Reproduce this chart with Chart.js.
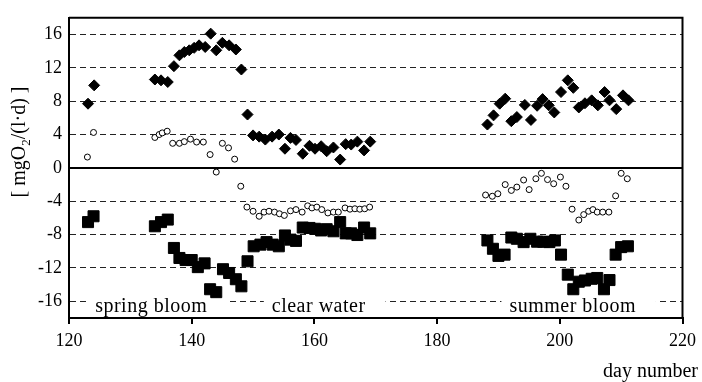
<!DOCTYPE html>
<html>
<head>
    <title>Oxygen rates</title>
    <script src="https://cdn.jsdelivr.net/npm/chart.js"></script>
    <style>
        body { margin: 0; background: #fff; }
    </style>
</head>
<body>
    <canvas id="rates-chart" width="702" height="382"></canvas>

    <script>
        // Values: day number and rate in mgO2/(l·d)
        const grossDays = [123.1, 124.1, 134, 135, 136.1, 137.1, 138, 138.8, 139.6, 140.4, 141.2, 142.2, 143.1, 144, 145, 146.1, 147.2, 148.1, 149.1, 150, 151, 152, 153.1, 154.2, 155.2, 156.1, 157, 158.1, 159.2, 160.1, 161.1, 162, 163.1, 164.2, 165.1, 166, 167, 168.1, 169.1,
            188.2, 189.2, 190.2, 191.1, 192.1, 193, 194.3, 195.3, 196.3, 197.2, 198.2, 199.1, 200.2, 201.3, 202.2, 203.1, 204.1, 205.2, 206.2, 207.3, 208.1, 209.2, 210.3, 211.2];
        const grossValues = [7.7, 9.9, 10.6, 10.5, 10.3, 12.2, 13.5, 13.9, 14.1, 14.4, 14.7, 14.5, 16.1, 14.1, 15.0, 14.7, 14.2, 11.8, 6.4, 3.9, 3.75, 3.4, 3.75, 4.0, 2.3, 3.6, 3.35, 1.7, 2.65, 2.3, 2.6, 2.0, 2.45, 1.0, 2.85, 2.8, 3.15, 2.1, 3.15,
            5.2, 6.3, 7.7, 8.3, 5.6, 6.1, 7.55, 5.75, 7.45, 8.25, 7.5, 6.65, 9.1, 10.5, 9.6, 7.25, 7.75, 8.1, 7.5, 9.1, 8.1, 7.05, 8.7, 8.1];

        const netDays = [123, 124, 134, 134.7, 135.2, 136, 136.9, 138, 138.8, 139.8, 140.8, 141.9, 143, 144, 145, 146, 147, 148, 149, 150, 151, 151.8, 152.6, 153.5, 154.3, 155.1, 156.1, 157, 158, 158.9, 159.6, 160.4, 161.2, 162.2, 163.1, 163.9, 165, 165.8, 166.6, 167.4, 168.2, 169,
            187.9, 189, 189.9, 191.1, 192.1, 193, 194.1, 195, 196.1, 197, 198, 199, 200.1, 201, 202, 203.1, 203.9, 204.7, 205.4, 206.1, 207, 208, 209.1, 210, 211];
        const netValues = [1.3, 4.25, 3.65, 4.0, 4.2, 4.4, 2.95, 2.95, 3.15, 3.45, 3.1, 3.1, 1.6, -0.5, 2.95, 2.4, 1.05, -2.2, -4.7, -5.2, -5.8, -5.3, -5.2, -5.3, -5.5, -5.7, -5.15, -5.0, -5.3, -4.55, -4.8, -4.7, -5.0, -5.4, -5.3, -5.3, -4.8, -4.95, -4.9, -4.95, -4.9, -4.7,
            -3.25, -3.4, -3.1, -2.0, -2.7, -2.3, -1.45, -2.6, -1.3, -0.65, -1.4, -1.9, -1.1, -2.2, -4.95, -6.25, -5.6, -5.2, -5.0, -5.3, -5.3, -5.3, -3.35, -0.65, -1.3];

        const respDays = [123.1, 124, 134, 135, 136.1, 137.1, 138, 139, 140, 141, 142.1, 143, 144, 145.1, 146.1, 147.2, 148.1, 149.1, 150.1, 151.2, 152.2, 153.2, 154.2, 155.2, 156.1, 157, 158.1, 159.2, 160.1, 161.1, 162, 163.1, 164.2, 165.1, 166, 167, 168.1, 169.1,
            188.2, 189.1, 190, 191, 192.1, 193, 194.1, 195.2, 196.3, 197.3, 198.3, 199.2, 200.2, 201.3, 202.2, 203.1, 204.1, 205.2, 206.1, 207.2, 208.1, 209.1, 210, 211.1];
        const respValues = [-6.5, -5.8, -7.0, -6.5, -6.2, -9.6, -10.8, -11.05, -11.05, -11.9, -11.45, -14.55, -14.9, -12.15, -12.6, -13.35, -14.2, -11.2, -9.4, -9.2, -8.9, -9.2, -9.4, -8.1, -8.6, -8.75, -7.15, -7.2, -7.3, -7.5, -7.35, -7.6, -6.5, -7.85, -7.85, -8.05, -7.15, -7.85,
            -8.7, -9.7, -10.55, -10.4, -8.35, -8.5, -8.9, -8.5, -8.85, -8.85, -8.9, -8.7, -10.4, -12.8, -14.55, -13.65, -13.5, -13.3, -13.2, -14.55, -13.45, -10.4, -9.5, -9.4];

        const yTicks = [-16, -12, -8, -4, 0, 4, 8, 12, 16];
        const phaseLabels = ['spring bloom', 'clear water', 'summer bloom'];
        const phaseDays = [133.4, 160.7, 202.1];
        const phaseValue = -16;

        const FONT = '"Liberation Serif", "Times New Roman", serif';

        function toPoints(days, values) {
            return days.map((d, i) => ({ x: d, y: values[i] }));
        }

        // extra drawing: frame, zero line, phase labels, axis titles
        const decorations = {
            id: 'decorations',
            beforeDatasetsDraw(chart) {
                const { ctx, chartArea, scales } = chart;
                const y0 = scales.y.getPixelForValue(0);
                ctx.save();
                ctx.strokeStyle = '#000';
                ctx.lineWidth = 2;
                ctx.beginPath();
                ctx.moveTo(chartArea.left, y0);
                ctx.lineTo(chartArea.right, y0);
                ctx.stroke();

                // phase labels on white boxes over the -16 grid line
                ctx.font = '20px ' + FONT;
                ctx.letterSpacing = '0.5px';
                ctx.textAlign = 'center';
                ctx.textBaseline = 'alphabetic';
                const yl = scales.y.getPixelForValue(phaseValue);
                phaseLabels.forEach((txt, i) => {
                    const cx = scales.x.getPixelForValue(phaseDays[i]);
                    const w = ctx.measureText(txt).width;
                    ctx.fillStyle = '#fff';
                    ctx.fillRect(cx - w / 2 - 8, yl - 6, w + 28, 12);
                    ctx.fillStyle = '#000';
                    ctx.fillText(txt, cx, yl + 11);
                });
                ctx.restore();
            },
            afterDraw(chart) {
                const { ctx, chartArea } = chart;
                ctx.save();
                ctx.strokeStyle = '#000';
                ctx.lineWidth = 2;
                ctx.beginPath();
                ctx.moveTo(chartArea.left, chartArea.top);
                ctx.lineTo(chartArea.right, chartArea.top);
                ctx.lineTo(chartArea.right, chartArea.bottom);
                ctx.stroke();

                ctx.fillStyle = '#000';
                ctx.font = '20px ' + FONT;
                ctx.textAlign = 'right';
                ctx.textBaseline = 'alphabetic';
                ctx.fillText('day number', 698, 377);

                // y title, rotated, with subscript 2
                ctx.translate(25, 142);
                ctx.rotate(-Math.PI / 2);
                const parts = [['[ mgO', 20, 0], ['2', 13, 5], ['/(l·d) ]', 20, 0]];
                let total = 0;
                parts.forEach(p => { ctx.font = p[1] + 'px ' + FONT; total += ctx.measureText(p[0]).width; });
                let x = -total / 2;
                ctx.textAlign = 'left';
                parts.forEach(p => {
                    ctx.font = p[1] + 'px ' + FONT;
                    ctx.fillText(p[0], x, p[2]);
                    x += ctx.measureText(p[0]).width;
                });
                ctx.restore();
            }
        };

        const ctx = document.getElementById('rates-chart').getContext('2d');
        new Chart(ctx, {
            type: 'scatter',
            data: {
                datasets: [
                    {
                        label: 'gross',
                        data: toPoints(grossDays, grossValues),
                        pointStyle: 'rectRot',
                        pointRadius: 5.5,
                        backgroundColor: '#000',
                        borderColor: '#000',
                        borderWidth: 1
                    },
                    {
                        label: 'net',
                        data: toPoints(netDays, netValues),
                        pointStyle: 'circle',
                        pointRadius: 3,
                        backgroundColor: '#fff',
                        borderColor: '#000',
                        borderWidth: 1
                    },
                    {
                        label: 'respiration',
                        data: toPoints(respDays, respValues),
                        pointStyle: 'rect',
                        pointRadius: 7.8,
                        backgroundColor: '#000',
                        borderColor: '#000',
                        borderWidth: 1
                    }
                ]
            },
            options: {
                responsive: false,
                animation: false,
                layout: { padding: { left: 0, top: 9, right: 14, bottom: 0 } },
                plugins: {
                    legend: { display: false },
                    tooltip: { enabled: false }
                },
                scales: {
                    x: {
                        type: 'linear',
                        min: 120,
                        max: 220,
                        afterFit: s => { s.height = 64; },
                        ticks: {
                            stepSize: 20,
                            color: '#000',
                            padding: 6,
                            font: { family: FONT, size: 18 }
                        },
                        grid: { drawOnChartArea: false, drawTicks: true, tickLength: 6, color: '#000', lineWidth: 2 },
                        border: { color: '#000', width: 2 }
                    },
                    y: {
                        min: -18,
                        max: 18,
                        afterFit: s => { s.width = 69; },
                        afterBuildTicks: s => { s.ticks = yTicks.map(v => ({ value: v })); },
                        ticks: {
                            color: '#000',
                            padding: 7,
                            font: { family: FONT, size: 18 }
                        },
                        grid: { drawTicks: false, color: '#222', lineWidth: 1 },
                        border: { color: '#000', width: 2, dash: [6, 4] }
                    }
                }
            },
            plugins: [decorations]
        });
    </script>
</body>
</html>
